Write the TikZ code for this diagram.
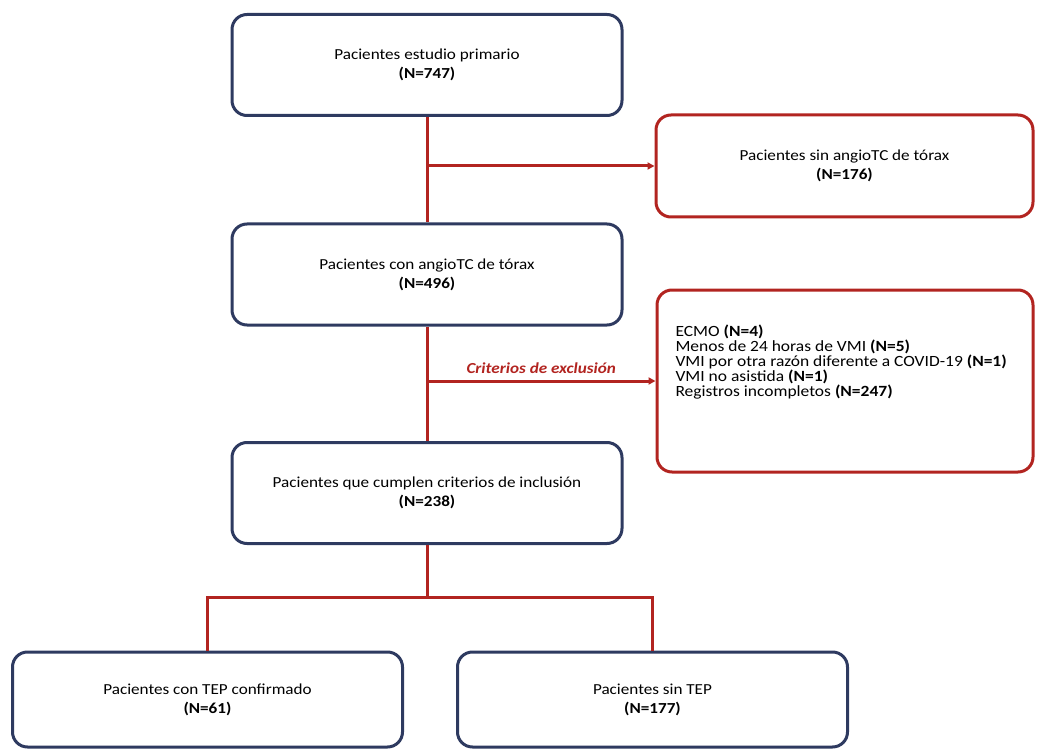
\documentclass[tikz,border=0pt]{standalone}
\usepackage{fontspec}
\setmainfont{Carlito}[FakeStretch=1.12]
\usepackage{tikz}
\usetikzlibrary{arrows.meta, positioning}
\definecolor{navyline}{RGB}{46,58,96}
\definecolor{redline}{RGB}{178,36,32}
\newcommand{\closelines}{\lineskiplimit=-10pt\relax}

\begin{document}
\begin{tikzpicture}[x=1pt, y=-1pt, >={Triangle[length=7pt, width=7pt]},
    font=\fontsize{15.3}{19}\selectfont,
    bluebox/.style={draw=navyline, line width=3pt, rounded corners=15pt, fill=white,
      minimum width=390pt, minimum height=101pt, align=center, inner sep=0pt},
    redbox/.style={draw=redline, line width=3pt, rounded corners=15pt, fill=white,
      align=center, inner sep=0pt},
    flow/.style={draw=redline, line width=3pt}]
    \useasboundingbox (0,0) rectangle (1037,749);

    \node[bluebox] (primario) at (427, 65) {Pacientes estudio primario\\ \textbf{(N=747)}};
    \node[redbox, minimum width=377pt, minimum height=102pt] (sinangio) at (844.5, 166)
      {Pacientes sin angioTC de tórax\\ \textbf{(N=176)}};
    \node[bluebox] (conangio) at (427, 274.5) {Pacientes con angioTC de tórax\\ \textbf{(N=496)}};
    \node[redbox, minimum width=376pt, minimum height=182pt] (exclusion) at (845, 381) {};
    \node[anchor=west, align=left, font=\fontsize{15.6}{14.8}\selectfont\closelines] (motivos) at (672, 362)
      {ECMO \textbf{(N=4)}\\
       Menos de 24 horas de VMI \textbf{(N=5)}\\
       VMI por otra razón diferente a COVID-19 \textbf{(N=1)}\\
       VMI no asistida \textbf{(N=1)}\\
       Registros incompletos \textbf{(N=247)}};
    \node[bluebox] (inclusion) at (427, 493) {Pacientes que cumplen criterios de inclusión\\ \textbf{(N=238)}};
    \node[bluebox, minimum height=95pt] (contep) at (207.5, 699.5) {Pacientes con TEP confirmado\\ \textbf{(N=61)}};
    \node[bluebox, minimum height=95pt] (sintep) at (652.5, 699.5) {Pacientes sin TEP\\ \textbf{(N=177)}};

    \coordinate (split) at (427, 597.5);

    \draw[flow] (primario) -- (conangio);
    \draw[flow, ->] (primario.south |- sinangio.west) -- (sinangio.west);
    \draw[flow] (conangio) -- (inclusion);
    \draw[flow, ->] (conangio.south |- exclusion.west) -- (exclusion.west)
      node[midway, above=3pt, text=redline, font=\fontsize{15.3}{19}\selectfont\bfseries\itshape] (criterios) {Criterios de exclusión};
    \draw[flow] (inclusion) -- (split);
    \draw[flow] (contep.north) |- (split) -| (sintep.north);
  \end{tikzpicture}
\end{document}
